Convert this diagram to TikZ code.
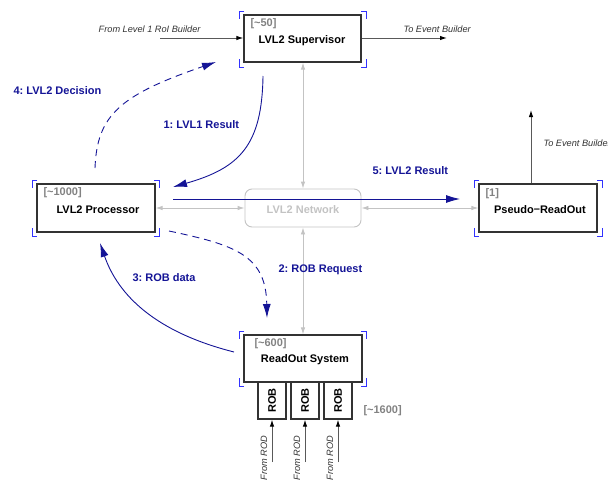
\documentclass[tikz,border=0pt]{standalone}
\usepackage{fontspec}
\setmainfont{Liberation Sans}
\usetikzlibrary{arrows.meta}
\definecolor{navy}{RGB}{20,20,150}
\definecolor{brk}{RGB}{50,50,255}
\definecolor{lgray}{RGB}{195,195,195}
\definecolor{mgray}{RGB}{130,130,130}
\frenchspacing
\begin{document}
\begin{tikzpicture}[x=1pt,y=-1pt,
  box/.style={draw=black!80,line width=1.2pt,minimum width=#1,inner sep=0pt},
  title/.style={font=\fontsize{11}{13}\selectfont\bfseries},
  cnt/.style={font=\fontsize{11}{13}\selectfont\bfseries,text=mgray,anchor=west},
  lbl/.style={font=\fontsize{11}{13}\selectfont\bfseries,text=navy},
  ital/.style={font=\fontsize{9.2}{11}\selectfont\itshape,text=black!80},
  garrow/.style={draw=lgray,line width=0.9pt,{Latex[length=7pt,width=4.5pt]}-{Latex[length=7pt,width=4.5pt]}},
  barrow/.style={draw=navy,line width=0.9pt,-{Latex[length=14pt,width=8pt]}},
  karrow/.style={draw=black!65,line width=1pt,-{Latex[length=7pt,width=4.5pt,black]}},
  brkt/.style={draw=brk,line width=1pt}
]
\useasboundingbox (0,0) rectangle (608,482);

% boxes
\node[box=117,minimum height=47] (sup) at (302.5,38.5) {};
\node[box=118,minimum height=48] (proc) at (96,208) {};
\node[draw=lgray,line width=0.9pt,rounded corners=7pt,minimum width=116,minimum height=38,inner sep=0pt] (net) at (303,208) {};
\node[box=118,minimum height=48] (pro) at (538,208) {};
\node[box=118,minimum height=47] (ros) at (303,358.5) {};
\node[box=28,minimum height=37] (rob1) at (272,400.5) {};
\node[box=28,minimum height=37] (rob2) at (305,400.5) {};
\node[box=28,minimum height=37] (rob3) at (338,400.5) {};

% texts in boxes
\node[cnt] (supc) at (247,24) {[\textasciitilde50]};
\node[title] (supt) at (302,41) {LVL2 Supervisor};
\node[cnt] (procc) at (40,193) {[\textasciitilde1000]};
\node[title] (proct) at (98,210) {LVL2 Processor};
\node[title,text=lgray] (nett) at (303,210) {LVL2 Network};
\node[cnt] (proc1) at (482,194) {[1]};
\node[title] (prot) at (540,210) {Pseudo\raisebox{0.25ex}{--}ReadOut};
\node[cnt] (rosc) at (251,344) {[\textasciitilde600]};
\node[title] (rost) at (305,360) {ReadOut System};
\node[title,rotate=90] at (rob1) {ROB};
\node[title,rotate=90] at (rob2) {ROB};
\node[title,rotate=90] at (rob3) {ROB};
\node[cnt] (robc) at (360,411) {[\textasciitilde1600]};

% brackets
\foreach \a/\b/\c/\d in {239/11/366/67, 32/180/159/236, 474/180/602/236, 239/331/366/386}{
  \draw[brkt] (\a+5,\b) -- (\a,\b) -- (\a,\b+8);
  \draw[brkt] (\c-5,\b) -- (\c,\b) -- (\c,\b+8);
  \draw[brkt] (\a+5,\d) -- (\a,\d) -- (\a,\d-8);
  \draw[brkt] (\c-5,\d) -- (\c,\d) -- (\c,\d-8);
}

% gray network arrows
\draw[garrow] (proc.east) -- (net.west);
\draw[garrow] (net.east) -- (pro.west);
\draw[garrow] (sup.south -| net.north) -- (net.north);
\draw[garrow] (net.south) -- (ros.north);

% external arrows
\coordinate (fromL1) at (160,38);
\coordinate (toEB1) at (447,38);
\coordinate (toEB2) at (531,110);
\draw[karrow] (fromL1) -- (sup.west |- fromL1);
\node[ital,anchor=south east] at (204,36) {From Level 1 RoI Builder};
\draw[karrow] (sup.east |- toEB1) -- (toEB1);
\node[ital,anchor=south west] at (400,36) {To Event Builder};
\draw[karrow] (pro.north -| toEB2) -- (toEB2);
\node[ital,anchor=west] at (540,143) {To Event Builder};

\foreach \r/\x in {rob1/272,rob2/305,rob3/338}{
  \coordinate (rod\r) at (\x,462);
  \draw[karrow] (rod\r) -- (\r.south);
  \node[ital,rotate=90] at (\x-8,458) {From ROD};
}

% blue flows
\coordinate (s1) at (263,76);
\coordinate (e1) at (173,187);
\draw[barrow] (s1) .. controls (262,145) and (240,168) .. (e1);
\node[lbl,anchor=west] at (160,125) {1: LVL1 Result};

\coordinate (s4) at (95,168);
\coordinate (e4) at (216,62);
\draw[barrow,dashed,dash pattern=on 7pt off 5pt] (s4) .. controls (97,115) and (120,95) .. (e4);
\node[lbl,anchor=west] at (10,91) {4: LVL2 Decision};

\coordinate (s5) at (173,199);
\coordinate (e5) at (460,199);
\draw[barrow] (s5) -- (e5);
\node[lbl,anchor=west] at (369,171) {5: LVL2 Result};

\coordinate (s2) at (169,231);
\coordinate (e2) at (267,318);
\draw[barrow,dashed,dash pattern=on 7pt off 5pt] (s2) .. controls (235,245) and (266,255) .. (e2);
\node[lbl,anchor=west] at (275,270) {2: ROB Request};

\coordinate (s3) at (234,352);
\coordinate (e3) at (100,243);
\draw[barrow] (s3) .. controls (155,332) and (118,295) .. (e3);
\node[lbl,anchor=west] at (129,278) {3: ROB data};
\end{tikzpicture}
\end{document}
